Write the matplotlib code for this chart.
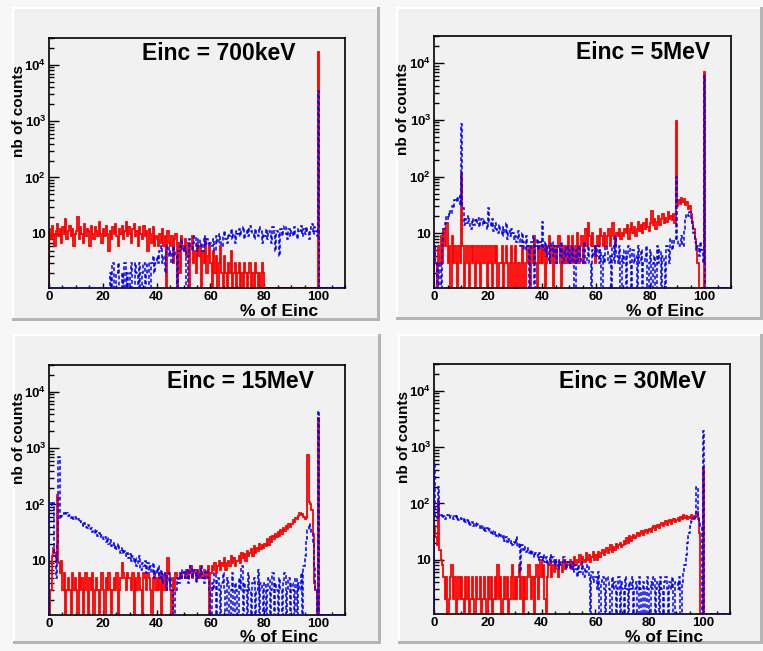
import numpy as np
import matplotlib
matplotlib.use("Agg")
import matplotlib.pyplot as plt
from matplotlib.patches import Rectangle
from matplotlib.ticker import (FixedLocator, FixedFormatter, MultipleLocator,
                               LogLocator, NullFormatter)

plt.rcParams['font.family'] = 'Liberation Sans'
plt.rcParams['font.weight'] = 'bold'
plt.rcParams['mathtext.fontset'] = 'custom'
plt.rcParams['mathtext.rm'] = 'Liberation Sans:bold'
plt.rcParams['mathtext.it'] = 'Liberation Sans:bold'
plt.rcParams['mathtext.bf'] = 'Liberation Sans:bold'

# -------------------------------
# Data : counts per 0.5 % bin, from 0 to 100 % of Einc (200 bins)
# red = solid histogram, blue = dashed histogram
# -------------------------------
titles = ["Einc = 700keV", "Einc = 5MeV", "Einc = 15MeV", "Einc = 30MeV"]

red_700keV = [
    12, 8, 14, 10, 6, 11, 15, 9, 12, 7, 13, 10, 18, 8, 11, 14, 9, 12, 6, 10,
    11, 20, 8, 13, 10, 7, 15, 9, 12, 11, 6, 14, 10, 8, 13, 11, 9, 16, 10, 7,
    12, 9, 14, 10, 5, 11, 8, 13, 10, 15, 9, 6, 12, 10, 14, 8, 11, 16, 9, 13,
    10, 7, 12, 15, 9, 11, 6, 13, 10, 8, 14, 9, 11, 5, 12, 10, 7, 13, 6, 9,
    8, 6, 10, 7, 12, 6, 9, 1, 11, 7, 6, 9, 3, 8, 10, 1, 7, 2, 9, 6,
    5, 8, 4, 7, 1, 6, 9, 3, 5, 2, 7, 4, 6, 1, 5, 3, 8, 2, 4, 6,
    3, 1, 5, 2, 4, 0, 3, 6, 2, 1, 4, 2, 0, 3, 2, 5, 1, 2, 3, 0,
    2, 3, 1, 2, 0, 3, 2, 1, 2, 3, 0, 2, 1, 3, 2, 0, 2, 1, 3, 2,
    0, 0, 0, 0, 0, 0, 0, 0, 0, 0, 0, 0, 0, 0, 0, 0, 0, 0, 0, 0,
    0, 0, 0, 0, 0, 0, 0, 0, 0, 0, 0, 0, 0, 0, 0, 0, 0, 0, 0, 0,
]
blue_700keV = [
    0, 0, 0, 0, 0, 0, 0, 0, 0, 0, 0, 0, 0, 0, 0, 0, 0, 0, 0, 0,
    0, 0, 0, 0, 0, 0, 0, 0, 0, 0, 0, 0, 0, 0, 0, 0, 0, 0, 0, 0,
    0, 0, 0, 0, 1, 2, 0, 3, 1, 0, 2, 3, 1, 0, 2, 1, 3, 0, 2, 1,
    2, 3, 0, 1, 3, 2, 0, 3, 1, 2, 3, 0, 2, 3, 1, 0, 3, 4, 2, 3,
    4, 3, 5, 6, 3, 4, 2, 5, 6, 4, 5, 3, 6, 5, 4, 1, 5, 6, 8, 5,
    6, 5, 1, 4, 8, 6, 5, 7, 9, 6, 5, 8, 6, 7, 5, 9, 6, 8, 7, 6,
    7, 6, 8, 5, 9, 7, 10, 8, 6, 9, 11, 8, 7, 10, 9, 12, 8, 10, 7, 11,
    10, 12, 9, 11, 13, 8, 10, 12, 9, 14, 11, 10, 8, 12, 10, 9, 13, 11, 7, 10,
    9, 12, 8, 11, 10, 7, 13, 9, 5, 11, 10, 4, 12, 9, 11, 14, 10, 8, 12, 9,
    11, 9, 13, 10, 8, 12, 11, 14, 9, 12, 10, 13, 11, 8, 12, 15, 10, 13, 11, 9,
]

red_5MeV = [
    6, 3, 0, 6, 3, 9, 3, 12, 6, 15, 3, 6, 0, 9, 3, 6, 3, 0, 6, 3,
    110, 6, 0, 3, 6, 3, 0, 6, 3, 6, 0, 3, 6, 3, 0, 6, 3, 3, 6, 0,
    3, 6, 3, 0, 6, 3, 6, 0, 3, 3, 6, 0, 3, 6, 3, 0, 3, 6, 0, 3,
    6, 0, 3, 3, 0, 6, 3, 0, 3, 6, 3, 0, 6, 3, 9, 3, 0, 6, 3, 6,
    3, 6, 0, 3, 6, 9, 3, 6, 0, 6, 3, 6, 9, 3, 0, 6, 3, 6, 3, 9,
    6, 3, 9, 6, 3, 6, 10, 3, 6, 9, 3, 6, 12, 6, 15, 9, 6, 10, 6, 3,
    6, 9, 6, 12, 9, 6, 10, 6, 9, 12, 6, 9, 15, 8, 6, 10, 9, 12, 8, 10,
    9, 12, 10, 14, 8, 12, 15, 10, 13, 9, 12, 16, 11, 14, 10, 15, 12, 18, 13, 11,
    15, 25, 14, 18, 12, 16, 20, 14, 18, 22, 15, 19, 16, 24, 18, 20, 17, 22, 15, 950,
    30, 38, 33, 42, 36, 40, 31, 35, 27, 30, 22, 16, 12, 8, 6, 3, 0, 0, 0, 0,
]
blue_5MeV = [
    6, 3, 0, 0, 3, 0, 6, 12, 15, 20, 18, 25, 22, 30, 28, 38, 42, 35, 45, 32,
    850, 28, 14, 18, 15, 20, 16, 12, 18, 14, 17, 15, 19, 13, 16, 18, 14, 17, 15, 12,
    28, 16, 13, 18, 11, 15, 12, 10, 14, 11, 9, 13, 10, 15, 8, 11, 9, 12, 10, 8,
    9, 7, 11, 8, 6, 10, 7, 5, 9, 6, 0, 5, 7, 9, 0, 6, 8, 5, 7, 6,
    16, 5, 7, 4, 6, 3, 5, 7, 4, 6, 3, 5, 6, 4, 7, 3, 5, 4, 6, 3,
    5, 3, 6, 4, 0, 5, 3, 6, 4, 3, 5, 7, 3, 4, 6, 3, 0, 5, 4, 6,
    4, 6, 3, 5, 0, 4, 3, 6, 5, 3, 4, 0, 6, 3, 9, 4, 3, 6, 0, 4,
    3, 5, 0, 4, 6, 3, 0, 5, 3, 4, 0, 6, 3, 5, 0, 3, 4, 6, 0, 3,
    5, 0, 3, 4, 0, 6, 3, 5, 0, 4, 3, 0, 6, 5, 3, 8, 5, 6, 8, 100,
    8, 6, 7, 9, 6, 12, 18, 22, 20, 24, 19, 14, 10, 7, 5, 6, 4, 7, 5, 3,
]

red_15MeV = [
    0, 3, 12, 17, 14, 11, 150, 9, 6, 10, 3, 6, 0, 3, 5, 3, 0, 6, 3, 5,
    3, 0, 6, 3, 5, 0, 3, 6, 3, 0, 5, 3, 6, 0, 3, 5, 3, 0, 3, 6,
    3, 0, 5, 3, 6, 3, 0, 3, 5, 3, 6, 0, 3, 5, 9, 6, 5, 3, 6, 5,
    5, 3, 6, 0, 5, 3, 6, 5, 3, 0, 6, 5, 3, 6, 5, 3, 0, 5, 6, 3,
    5, 3, 6, 0, 5, 3, 6, 3, 11, 6, 3, 0, 5, 3, 6, 5, 5, 6, 5, 6,
    6, 5, 7, 5, 6, 8, 5, 6, 7, 5, 6, 5, 8, 6, 5, 7, 6, 5, 8, 0,
    6, 8, 7, 9, 6, 8, 10, 7, 9, 8, 11, 7, 9, 10, 8, 12, 9, 11, 8, 10,
    10, 12, 9, 14, 11, 13, 10, 15, 12, 14, 16, 12, 18, 14, 17, 15, 20, 16, 19, 17,
    20, 18, 24, 19, 26, 22, 28, 24, 30, 26, 33, 28, 35, 30, 38, 34, 42, 37, 45, 40,
    45, 52, 48, 58, 55, 62, 70, 65, 68, 60, 55, 58, 750, 110, 100, 80, 30, 4, 3, 0,
]
blue_15MeV = [
    100, 110, 95, 105, 12, 5, 20, 700, 55, 62, 68, 72, 65, 70, 62, 66, 58, 63, 55, 60,
    52, 56, 48, 50, 45, 42, 47, 40, 38, 43, 36, 39, 33, 35, 30, 34, 28, 31, 26, 29,
    24, 27, 22, 25, 20, 23, 18, 21, 17, 19, 16, 20, 15, 14, 17, 13, 15, 12, 14, 11,
    13, 10, 12, 9, 11, 8, 10, 12, 7, 9, 8, 10, 6, 9, 7, 8, 6, 9, 5, 7,
    6, 8, 5, 7, 4, 6, 5, 3, 6, 4, 5, 3, 0, 0, 3, 5, 4, 6, 5, 7,
    6, 5, 7, 4, 6, 8, 5, 7, 6, 4, 7, 5, 6, 8, 5, 4, 6, 7, 5, 3,
    0, 4, 3, 6, 0, 5, 3, 0, 4, 6, 3, 0, 5, 4, 0, 3, 6, 0, 4, 3,
    0, 5, 3, 8, 0, 4, 3, 0, 6, 3, 0, 4, 5, 0, 3, 7, 0, 4, 3, 0,
    4, 0, 3, 5, 0, 3, 6, 0, 4, 3, 0, 5, 3, 0, 4, 6, 0, 3, 5, 0,
    4, 3, 0, 5, 0, 4, 3, 6, 0, 8, 12, 24, 35, 45, 40, 32, 20, 8, 3, 0,
]

red_30MeV = [
    40, 25, 18, 110, 15, 10, 8, 5, 2, 5, 0, 2, 5, 8, 2, 5, 0, 2, 5, 2,
    5, 2, 0, 5, 2, 5, 0, 2, 5, 2, 0, 5, 2, 2, 5, 0, 2, 5, 2, 0,
    5, 2, 5, 0, 2, 5, 2, 8, 2, 5, 0, 2, 5, 2, 5, 0, 2, 5, 8, 2,
    5, 2, 5, 8, 2, 5, 0, 5, 2, 5, 8, 5, 2, 5, 0, 5, 8, 2, 5, 10,
    5, 8, 2, 0, 5, 8, 10, 5, 8, 6, 10, 7, 5, 9, 8, 6, 10, 7, 9, 8,
    8, 10, 7, 9, 11, 8, 10, 9, 12, 8, 11, 10, 9, 13, 10, 12, 9, 11, 14, 10,
    12, 10, 14, 11, 13, 15, 12, 14, 16, 13, 15, 18, 14, 17, 15, 19, 16, 18, 20, 17,
    18, 22, 19, 24, 20, 26, 22, 25, 28, 24, 27, 30, 26, 29, 32, 28, 31, 34, 30, 33,
    35, 31, 36, 40, 34, 38, 42, 37, 41, 45, 40, 44, 48, 42, 46, 50, 44, 48, 52, 46,
    50, 55, 48, 58, 52, 62, 55, 60, 52, 58, 56, 62, 54, 60, 58, 70, 52, 30, 0, 0,
]
blue_30MeV = [
    520, 60, 55, 200, 58, 62, 55, 60, 52, 58, 62, 55, 60, 57, 52, 59, 54, 61, 50, 56,
    52, 48, 55, 46, 50, 44, 49, 42, 47, 40, 45, 38, 43, 41, 36, 40, 34, 38, 33, 36,
    32, 35, 30, 33, 28, 31, 27, 29, 25, 28, 24, 26, 22, 25, 21, 23, 20, 22, 18, 21,
    19, 25, 17, 20, 6, 18, 15, 17, 14, 16, 13, 15, 12, 14, 11, 13, 12, 10, 13, 11,
    10, 12, 9, 11, 8, 10, 12, 9, 11, 8, 10, 9, 7, 10, 8, 9, 11, 8, 7, 9,
    8, 7, 9, 6, 8, 7, 5, 8, 6, 7, 9, 5, 7, 6, 8, 5, 0, 6, 4, 5,
    5, 3, 6, 0, 4, 5, 3, 0, 5, 4, 3, 0, 5, 3, 4, 0, 3, 5, 0, 4,
    3, 0, 5, 3, 0, 4, 3, 5, 0, 3, 4, 0, 5, 3, 0, 4, 3, 0, 5, 3,
    0, 4, 3, 5, 0, 3, 4, 0, 5, 3, 0, 4, 5, 3, 0, 4, 3, 5, 0, 4,
    4, 3, 5, 0, 4, 6, 8, 12, 20, 30, 40, 48, 55, 50, 58, 200, 55, 48, 40, 0,
]

# full-energy peak at 100 %
red_peak100 = [17000, 7000, 3400, 430]
blue_peak100 = [3500, 6000, 4600, 1900]

red_series = [red_700keV, red_5MeV, red_15MeV, red_30MeV]
blue_series = [blue_700keV, blue_5MeV, blue_15MeV, blue_30MeV]

# -------------------------------
# Layout (pixels of the 763x651 canvas)
# -------------------------------
W, H = 763, 651
pads = [(12, 7, 380, 321), (396, 7, 763, 320),
        (13, 334, 381, 644), (398, 334, 763, 644)]
frames = [(49, 38, 345, 288), (434, 36, 731, 288),
          (49, 365, 345, 615), (434, 364, 730, 614)]
title_pos = [(0.574, 0.94), (0.704, 0.933), (0.647, 0.932), (0.671, 0.928)]

PAD = '#f1f1f1'
YMIN, YMAX = 1.09, 3.0e4
edges = np.arange(0, 110.0001, 0.5)


def box(l, t, r, b, color, z):
    fig.add_artist(Rectangle((l / W, 1 - b / H), (r - l) / W, (b - t) / H,
                             transform=fig.transFigure, facecolor=color,
                             edgecolor='none', zorder=z))


fig = plt.figure(figsize=(W / 100, H / 100), dpi=100)
fig.patch.set_facecolor('#f7f7f7')

for i in range(4):
    l, t, r, b = pads[i]
    box(l, t, r, b, PAD, -3)
    box(l, t, r, t + 2, '#ffffff', -2)
    box(l, t, l + 2, b, '#ffffff', -2)
    box(l, b - 3, r, b, '#b4b4b4', -2)
    box(r - 3, t, r, b, '#b4b4b4', -2)

    fl, ft, fr, fb = frames[i]
    ax = fig.add_axes([fl / W, 1 - fb / H, (fr - fl) / W, (fb - ft) / H])
    ax.set_facecolor(PAD)

    red = np.zeros(len(edges) - 1)
    blue = np.zeros(len(edges) - 1)
    red[:200] = red_series[i]
    blue[:200] = blue_series[i]
    red[200] = red_peak100[i]
    blue[200] = blue_peak100[i]
    # empty bins sit on the bottom of the frame, like ROOT does
    red = np.where(red > 0, red, YMIN)
    blue = np.where(blue > 0, blue, YMIN)

    ax.stairs(red, edges, baseline=YMIN, color='#ff0000', lw=1.3, zorder=2)
    ax.stairs(blue, edges, baseline=YMIN, color='#0000ff', lw=1.1,
              linestyle=(0, (2.5, 1.5)), zorder=3)

    ax.set_yscale('log')
    ax.set_xlim(0, 110)
    ax.set_ylim(YMIN, YMAX)

    ax.xaxis.set_major_locator(MultipleLocator(20))
    ax.xaxis.set_minor_locator(MultipleLocator(5))
    ax.yaxis.set_major_locator(FixedLocator([10, 100, 1000, 10000]))
    ax.yaxis.set_major_formatter(FixedFormatter(
        ['10', '$10^{2}$', '$10^{3}$', '$10^{4}$']))
    ax.yaxis.set_minor_locator(LogLocator(base=10, subs=np.arange(2, 10), numticks=20))
    ax.yaxis.set_minor_formatter(NullFormatter())

    ax.tick_params(which='both', direction='in', top=False, right=False,
                   labelsize=9.5, width=1)
    ax.tick_params(axis='x', which='major', length=3.6, pad=2.5)
    ax.tick_params(axis='x', which='minor', length=2)
    ax.tick_params(axis='y', which='major', length=7, pad=2)
    ax.tick_params(axis='y', which='minor', length=3.6)
    for lbl in ax.get_xticklabels() + ax.get_yticklabels():
        lbl.set_fontweight('bold')
    for s in ax.spines.values():
        s.set_linewidth(1.2)

    ax.text(0.91, -0.092, '% of Einc', transform=ax.transAxes, ha='right',
            va='center', fontsize=12.5, fontweight='bold')
    ax.text(-0.103, 0.892, 'nb of counts', transform=ax.transAxes, rotation=90,
            ha='center', va='top', fontsize=11, fontweight='bold')
    ax.text(title_pos[i][0], title_pos[i][1], titles[i], transform=ax.transAxes,
            ha='center', va='center', fontsize=16.5, fontweight='bold')

fig.savefig('out.png', dpi=100, facecolor=fig.get_facecolor())
